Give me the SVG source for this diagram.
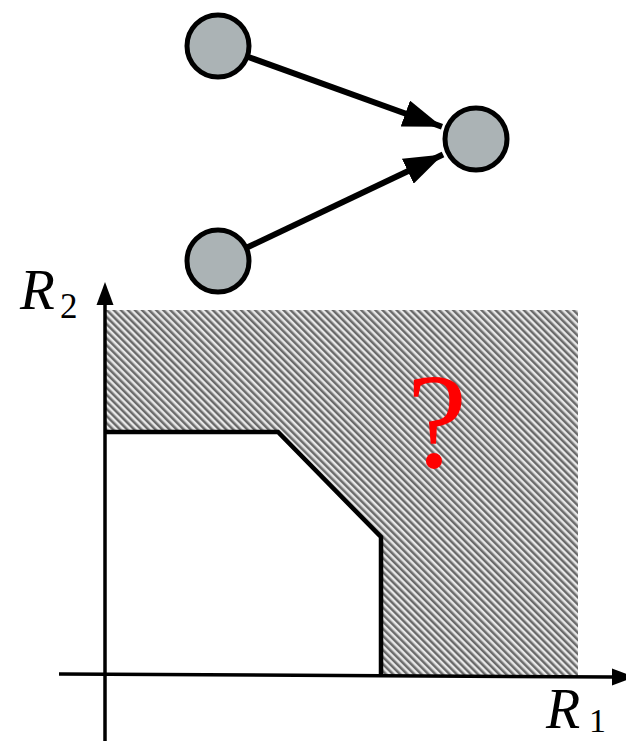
<svg xmlns="http://www.w3.org/2000/svg" width="626" height="741" viewBox="0 0 626 741">
<style>
.node{fill:#abb3b5;stroke:#000;stroke-width:5}
.edge{stroke:#000;stroke-width:6;fill:none}
.axis{stroke:#000;stroke-width:3.5;fill:none}
</style>
<defs>
<pattern id="hatch" width="5" height="5" patternUnits="userSpaceOnUse" patternTransform="rotate(-45)">
<rect width="5" height="5" fill="#e8e8e8"/>
<rect width="2.5" height="5" fill="#6a6a6a"/>
</pattern>
<marker id="ah" markerWidth="6.5" markerHeight="4.6" refX="6.5" refY="2.3" orient="auto" markerUnits="strokeWidth">
<path d="M0,0 L6.5,2.3 L0,4.6 Z" fill="#000"/>
</marker>
</defs>
<g id="region">
<rect x="105" y="310" width="473" height="366" fill="url(#hatch)"/>
<polygon points="105,432 278,432 381,537 381,676 105,676" fill="#fff"/>
</g>
<g id="connectors">
<line class="edge" x1="247" y1="56.5" x2="442" y2="126.8" marker-end="url(#ah)"/>
<line class="edge" x1="246" y1="248" x2="443" y2="154.5" marker-end="url(#ah)"/>
</g>
<g id="axes">
<line class="axis" x1="105" y1="741" x2="105" y2="303"/>
<polygon points="105,282 96.5,305 113.5,305" fill="#000"/>
<line class="axis" x1="59" y1="674" x2="614" y2="677"/>
<polygon points="635,677 612,668.5 612,685.5" fill="#000"/>
</g>
<g id="boundary">
<polyline points="105,432 278,432 381,537 381,677" fill="none" stroke="#000" stroke-width="4.5"/>
</g>
<g id="n1"><circle class="node" cx="218" cy="46" r="31"/></g>
<g id="n2"><circle class="node" cx="218" cy="261" r="31"/></g>
<g id="n3"><circle class="node" cx="476" cy="139" r="31"/></g>
<g id="labels">
<text x="20" y="309" font-size="57" font-style="italic" font-family="Liberation Serif, DejaVu Serif, serif" fill="#000">R</text>
<text x="60" y="318" font-size="35" font-family="Liberation Serif, DejaVu Serif, serif" fill="#000">2</text>
<text x="546" y="728" font-size="56" font-style="italic" font-family="Liberation Serif, DejaVu Serif, serif" fill="#000">R</text>
<text x="589" y="732" font-size="34" font-family="Liberation Serif, DejaVu Serif, serif" fill="#000">1</text>
<text x="437" y="467" font-size="136" text-anchor="middle" font-family="Liberation Serif, DejaVu Serif, serif" fill="#ff0000">?</text>
</g>
</svg>
